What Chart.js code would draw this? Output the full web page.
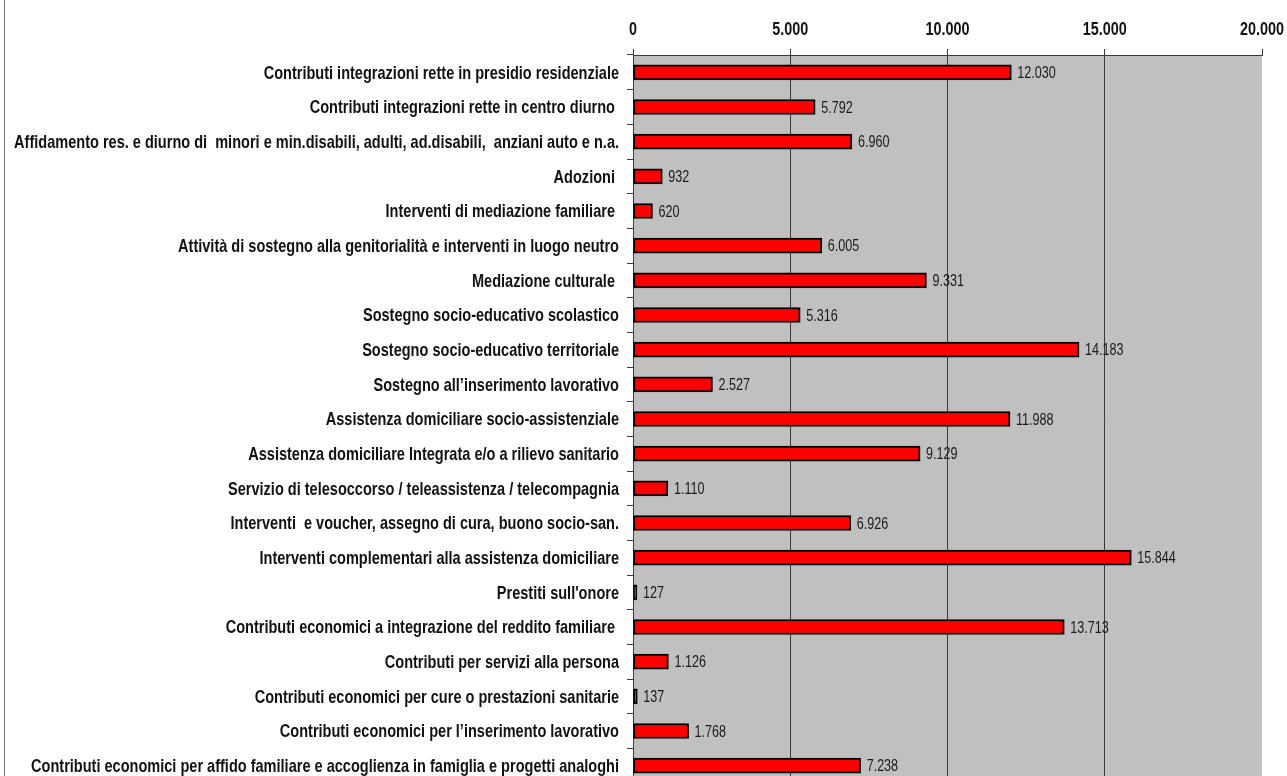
<!DOCTYPE html>
<html>
<head>
<meta charset="utf-8">
<script src="https://cdn.jsdelivr.net/npm/chart.js@4"></script>
<style>
  html, body { margin: 0; padding: 0; background: #fff; overflow: hidden; }
  #wrap { position: relative; width: 1287px; height: 784px; }
  #edge { position: absolute; left: 4px; top: 0; width: 0; height: 784px; border-left: 1px solid #777; }
</style>
</head>
<body>
<div id="wrap">
  <div id="edge"></div>
  <canvas id="myChart" width="1287" height="784"></canvas>
</div>
<script>
// no Arial Narrow here, so Liberation Sans is squeezed sideways
const FONT = "'Liberation Sans', Arial, sans-serif";

// prettier-ignore
const categories = [
  'Contributi integrazioni rette in presidio residenziale',
  'Contributi integrazioni rette in centro diurno ',
  'Affidamento res. e diurno di  minori e min.disabili, adulti, ad.disabili,  anziani auto e n.a.',
  'Adozioni ',
  'Interventi di mediazione familiare ',
  'Attività di sostegno alla genitorialità e interventi in luogo neutro',
  'Mediazione culturale ',
  'Sostegno socio-educativo scolastico',
  'Sostegno socio-educativo territoriale',
  'Sostegno all’inserimento lavorativo',
  'Assistenza domiciliare socio-assistenziale',
  'Assistenza domiciliare Integrata e/o a rilievo sanitario',
  'Servizio di telesoccorso / teleassistenza / telecompagnia',
  'Interventi  e voucher, assegno di cura, buono socio-san.',
  'Interventi complementari alla assistenza domiciliare',
  "Prestiti sull'onore",
  'Contributi economici a integrazione del reddito familiare ',
  'Contributi per servizi alla persona',
  'Contributi economici per cure o prestazioni sanitarie',
  'Contributi economici per l’inserimento lavorativo',
  'Contributi economici per affido familiare e accoglienza in famiglia e progetti analoghi',
];
// prettier-ignore
const values = [12030, 5792, 6960, 932, 620, 6005, 9331, 5316, 14183, 2527, 11988, 9129, 1110, 6926, 15844, 127, 13713, 1126, 137, 1768, 7238];
const xTicks = [0, 5000, 10000, 15000, 20000];

function itNum(v) {
  return String(Math.round(v)).replace(/\B(?=(\d{3})+(?!\d))/g, '.');
}

// draw text squeezed horizontally (narrow look)
function narrowText(ctx, str, x, y, font, align, sx) {
  ctx.save();
  ctx.font = font;
  ctx.textAlign = align;
  ctx.translate(x, y);
  ctx.scale(sx, 1);
  ctx.fillText(str, 0, 0);
  ctx.restore();
}

// grey plot area
const plotBg = {
  id: 'plotBg',
  beforeDraw(chart) {
    const { ctx, chartArea: a } = chart;
    ctx.save();
    ctx.fillStyle = '#c0c0c0';
    ctx.fillRect(a.left, a.top, a.right - a.left, a.bottom - a.top);
    ctx.restore();
  },
};

// category labels, axis numbers and value labels
const texts = {
  id: 'texts',
  afterDraw(chart) {
    const { ctx } = chart;
    const xs = chart.scales.x, ys = chart.scales.y;
    const meta = chart.getDatasetMeta(0);
    ctx.save();
    ctx.fillStyle = '#111';
    ctx.textBaseline = 'middle';
    categories.forEach((c, i) => {
      narrowText(ctx, c, 619, ys.getPixelForTick(i) + 1, 'bold 19px ' + FONT, 'right', 0.765);
    });
    xTicks.forEach(v => {
      narrowText(ctx, itNum(v), xs.getPixelForValue(v), 30, 'bold 18px ' + FONT, 'center', 0.8);
    });
    ctx.fillStyle = '#1a1a1a';
    meta.data.forEach((bar, i) => {
      narrowText(ctx, itNum(values[i]), bar.x + 6, bar.y + 1, '17px ' + FONT, 'left', 0.74);
    });
    ctx.restore();
  },
};

const data = {
  labels: categories,
  datasets: [{
    data: values,
    backgroundColor: '#ff0000',
    borderColor: '#000',
    borderWidth: 2,
    borderSkipped: false,
    barThickness: 15,
  }],
};

const config = {
  type: 'bar',
  data: data,
  options: {
    indexAxis: 'y',
    responsive: false,
    animation: false,
    layout: { padding: { left: 0, right: 25, top: 0, bottom: 1 } },
    plugins: { legend: { display: false }, tooltip: { enabled: false } },
    scales: {
      x: {
        position: 'top',
        min: 0,
        max: 20000,
        afterBuildTicks(scale) { scale.ticks = xTicks.map(v => ({ value: v })); },
        afterFit(scale) {
          scale.height = 55;
          scale.paddingLeft = 0; scale.paddingRight = 0;
        },
        grid: {
          color: ctx => (ctx.tick && ctx.tick.value === 20000 ? 'rgba(0,0,0,0)' : '#3a3a3a'),
          lineWidth: 1,
          tickLength: 6,
          tickColor: '#3a3a3a',
        },
        border: { display: true, color: '#3a3a3a', width: 1 },
        ticks: {
          color: 'rgba(0,0,0,0)',
          font: { size: 12 },
          maxRotation: 0,
          callback: v => itNum(v),
        },
      },
      y: {
        afterFit(scale) {
          scale.width = 633;
          scale.paddingTop = 0; scale.paddingBottom = 0;
        },
        grid: {
          offset: true,
          drawOnChartArea: false,
          tickLength: 6,
          tickColor: '#3a3a3a',
        },
        border: { display: true, color: '#3a3a3a', width: 1 },
        ticks: {
          color: 'rgba(0,0,0,0)',
          font: { size: 10 },
          autoSkip: false,
        },
      },
    },
  },
  plugins: [plotBg, texts],
};

const myChart = new Chart(document.getElementById('myChart'), config);
</script>
</body>
</html>
